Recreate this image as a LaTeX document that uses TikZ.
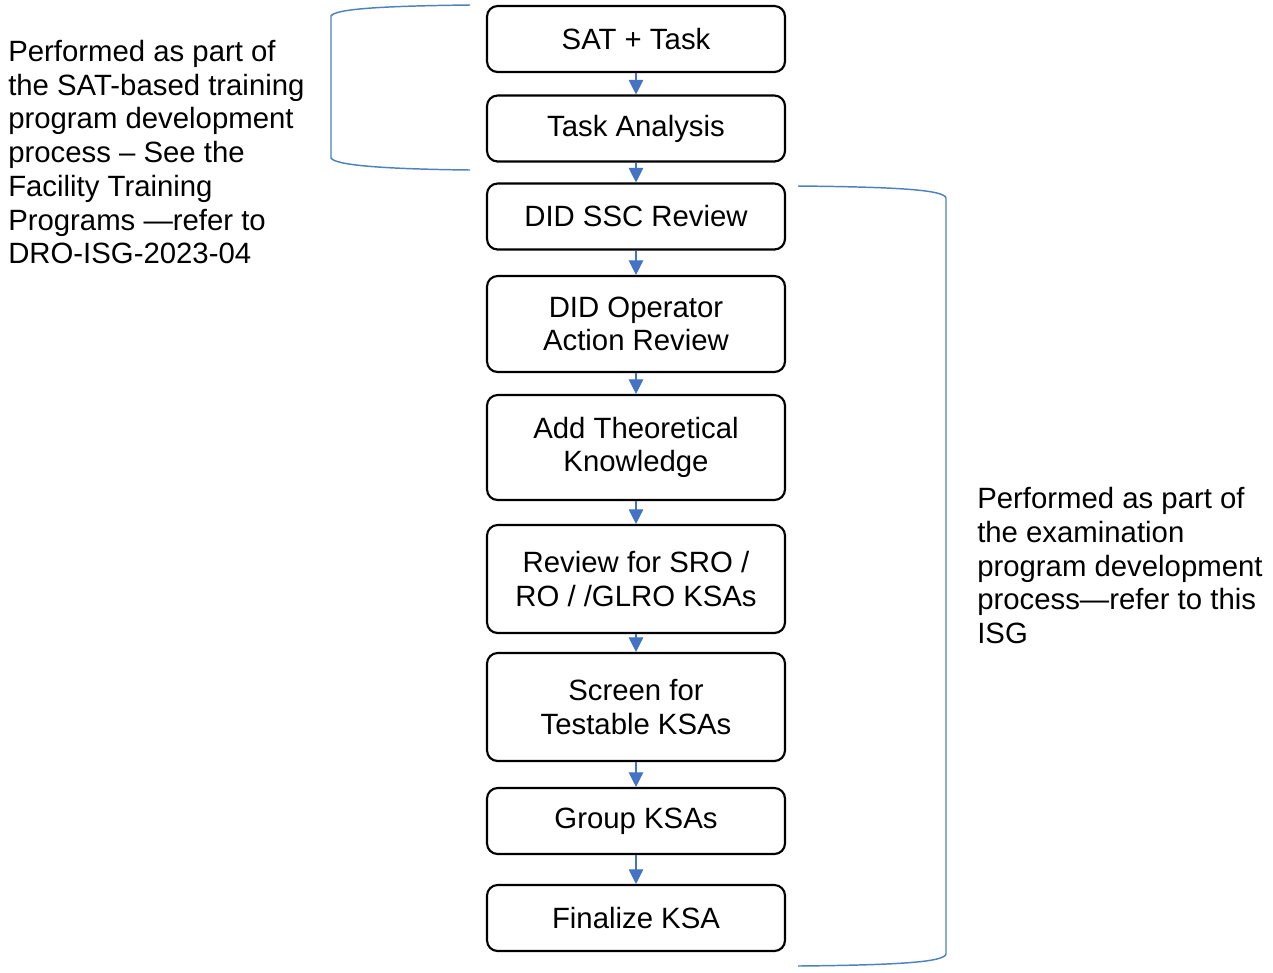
\documentclass[tikz,border=0pt]{standalone}
\usepackage{fontspec}
\setmainfont{Liberation Sans}
\usetikzlibrary{arrows.meta}
\definecolor{arrowblue}{HTML}{4472C4}
\definecolor{braceblue}{HTML}{4F81BD}
\newcommand{\flowfont}{\fontsize{22}{25.3}\selectfont}
\tikzset{
  stepbox/.style={draw, line width=1.6pt, rounded corners=8pt,
    minimum width=223.5pt, minimum height=49.5pt, inner sep=0pt,
    align=center, font=\flowfont},
  flowarrow/.style={draw=arrowblue, line width=0.8pt,
    -{Triangle[width=11pt,length=11pt]}},
  bracket/.style={draw=braceblue, line width=1.1pt},
  note/.style={anchor=north west, inner sep=0pt, align=left, font=\flowfont}
}
\begin{document}
\begin{tikzpicture}[x=0.75pt,y=-0.75pt]
      \useasboundingbox (0,0) rectangle (1273,972);
      \draw
        (636,39) node[stepbox] (0){SAT + Task}
        (636,128.5) node[stepbox] (1){Task Analysis}
        (636,216.5) node[stepbox] (2){DID SSC Review}
        (636,324) node[stepbox, minimum height=72pt] (3){DID Operator\\Action Review}
        (636,447.5) node[stepbox, minimum height=78.75pt] (4){Add Theoretical\\Knowledge}
        (636,579) node[stepbox, minimum height=81pt] (5){Review for SRO /\\RO / /GLRO KSAs}
        (636,707) node[stepbox, minimum height=81pt] (6){Screen for\\Testable KSAs}
        (636,821) node[stepbox] (7){Group KSAs}
        (636,918) node[stepbox] (8){Finalize KSA};
      \begin{scope}[flowarrow]
        \draw (0) to (1);
        \draw (1) to (2);
        \draw (2) to (3);
        \draw (3) to (4);
        \draw (4) to (5);
        \draw (5) to (6);
        \draw (6) to (7);
        \draw (7) to (8);
      \end{scope}
      \node[note] (sat-note) at (8,40)
        {Performed as part of\\the SAT-based training\\program development\\process -- See the\\Facility Training\\Programs ---refer to\\DRO-ISG-2023-04};
      \node[note] (exam-note) at (977,487)
        {Performed as part of\\the examination\\program development\\process---refer to this\\ISG};
      \coordinate (sat-top) at (470,5);
      \coordinate (sat-bot) at (470,170);
      \coordinate (exam-top) at (798,186);
      \coordinate (exam-bot) at (798,966);
      \draw[bracket] (sat-top) .. controls (380,6) and (335,9) .. (331,16)
        -- (331,158) .. controls (335,165) and (380,169) .. (sat-bot);
      \draw[bracket] (exam-top) .. controls (900,187) and (944,190) .. (946,198)
        -- (946,954) .. controls (944,962) and (900,965) .. (exam-bot);
    \end{tikzpicture}
\end{document}
